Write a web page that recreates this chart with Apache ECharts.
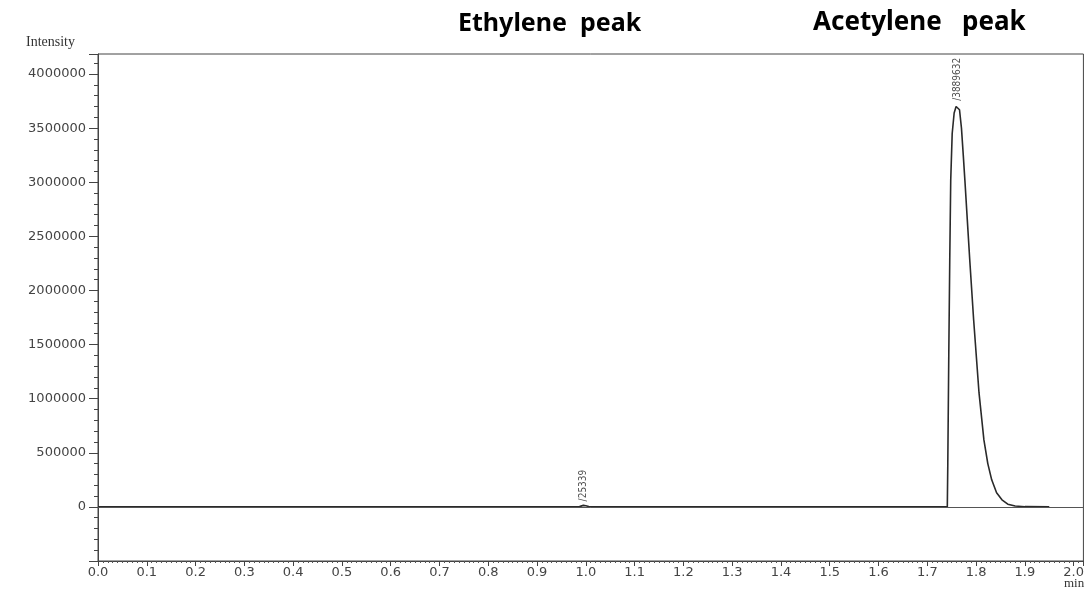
<!DOCTYPE html>
<html>
<head>
<meta charset="utf-8">
<script src="https://cdn.jsdelivr.net/npm/echarts@6/dist/echarts.min.js"></script>
<style>
  html, body { margin: 0; padding: 0; background: #fff; }
  #chart { width: 1087px; height: 590px; }
</style>
</head>
<body>
<div id="chart"></div>
<script>
// Chromatogram trace: retention time (min) and detector intensity
const times = [0, 0.985, 0.990, 0.995, 1.000, 1.006, 1.013,
  1.741, 1.742, 1.744, 1.746, 1.748, 1.751, 1.755, 1.759, 1.7625, 1.766, 1.770, 1.774, 1.777,
  1.782, 1.787, 1.795, 1.806, 1.816, 1.824, 1.832, 1.842, 1.853, 1.865, 1.880, 1.900, 1.950];
const intensity = [0, 0, 7000, 14000, 11000, 4000, 0,
  0, 400000, 1400000, 2280000, 3020000, 3450000, 3640000, 3700000, 3715000, 3670000, 3500000, 3230000, 3020000,
  2650000, 2282000, 1727000, 1053000, 619000, 400000, 250000, 130000, 65000, 25000, 8000, 2000, 0];

// Integrated peaks: apex position and area annotation
const peakTimes = [0.995, 1.7625];
const peakHeights = [14000, 3715000];
const peakAreas = ['25339', '3889632'];

const peakNames = ['Ethylene  peak', 'Acetylene   peak'];

const xTicks = { min: 0, max: 2.02, interval: 0.1 };
const yTicks = { min: -500000, max: 4185000, interval: 500000 };

const axisFont = 'DejaVu Sans';
const axisColor = '#444';

const chart = echarts.init(document.getElementById('chart'), null, { renderer: 'canvas' });

chart.setOption({
  animation: false,
  backgroundColor: '#fff',
  grid: {
    left: 98, right: 2, top: 54, bottom: 29,
    show: true, borderColor: axisColor, borderWidth: 1, backgroundColor: 'transparent'
  },
  xAxis: {
    type: 'value',
    min: xTicks.min, max: xTicks.max, interval: xTicks.interval,
    axisLine: { show: true, onZero: false, lineStyle: { color: axisColor, width: 1 } },
    axisTick: { show: true, length: 5, lineStyle: { color: axisColor } },
    minorTick: { show: true, splitNumber: 10, length: 2, lineStyle: { color: '#555' } },
    splitLine: { show: false },
    axisLabel: {
      margin: 5, color: axisColor, fontFamily: axisFont, fontSize: 13,
      showMaxLabel: false,
      formatter: v => v.toFixed(1)
    }
  },
  yAxis: {
    type: 'value',
    min: yTicks.min, max: yTicks.max, interval: yTicks.interval,
    axisLine: { show: true, lineStyle: { color: axisColor, width: 1 } },
    axisTick: { show: true, length: 9, lineStyle: { color: axisColor } },
    minorTick: { show: true, splitNumber: 5, length: 4, lineStyle: { color: axisColor } },
    splitLine: { show: false },
    axisLabel: {
      margin: 12, color: axisColor, fontFamily: axisFont, fontSize: 13,
      showMaxLabel: false,
      formatter: v => (v < 0 || v % yTicks.interval !== 0 ? '' : String(v))
    }
  },
  graphic: [
    { type: 'text', left: 26, top: 35,
      style: { text: 'Intensity', font: '14px "Liberation Serif"', fill: '#333' } },
    { type: 'text', left: 1064, top: 577,
      style: { text: 'min', font: '13px "Liberation Serif"', fill: '#333' } },
    { type: 'text', left: 458, top: 11,
      style: { text: peakNames[0], font: 'bold 25px "Noto Sans"', fill: '#000' } },
    { type: 'text', left: 813, top: 10,
      style: { text: peakNames[1], font: 'bold 26px "Noto Sans"', fill: '#000' } }
  ],
  series: [
    {
      type: 'line',
      data: times.map((t, i) => [t, intensity[i]]),
      showSymbol: false,
      lineStyle: { color: '#2a2a2a', width: 1.6 },
      z: 3,
      markLine: {
        silent: true,
        symbol: ['none', 'none'],
        label: { show: false },
        lineStyle: { color: '#555', width: 1, type: 'solid' },
        data: [{ yAxis: 0 }]
      }
    },
    {
      type: 'scatter',
      data: peakTimes.map((t, i) => ({ value: [t, peakHeights[i]], area: peakAreas[i] })),
      symbolSize: 0,
      label: {
        show: true,
        position: 'top',
        distance: 4,
        rotate: 90,
        align: 'left',
        verticalAlign: 'middle',
        fontFamily: '"Liberation Sans Narrow", "DejaVu Sans Condensed", sans-serif',
        fontSize: 10,
        color: '#222',
        formatter: p => '/' + p.data.area
      },
      z: 4
    }
  ]
});
</script>
</body>
</html>
